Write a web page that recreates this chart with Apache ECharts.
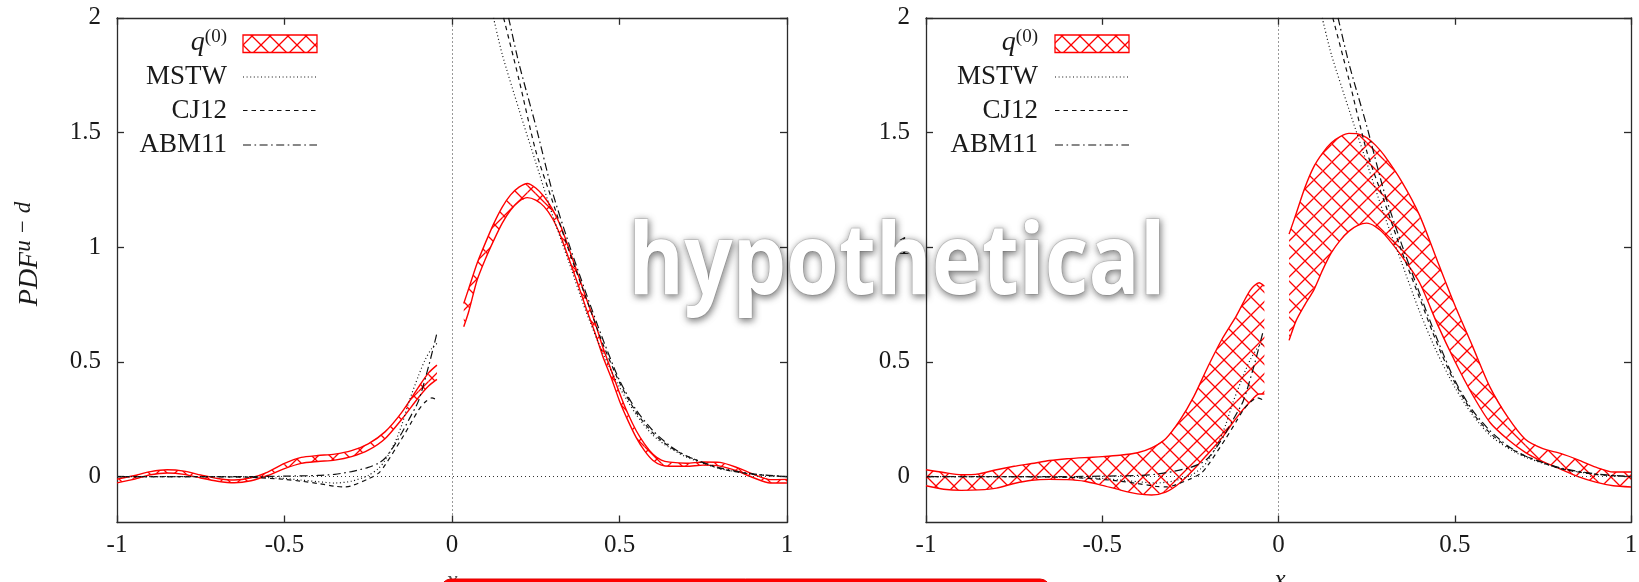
<!DOCTYPE html>
<html><head><meta charset="utf-8">
<script src="https://cdn.jsdelivr.net/npm/echarts@6/dist/echarts.min.js"></script>
<style>html,body{margin:0;padding:0;background:#fff}#c{width:1639px;height:582px}</style>
</head><body><div id="c"></div><script>
// ---------- tick labels ----------
const X_TICKS = [-1, -0.5, 0, 0.5, 1];
const Y_TICKS = [0, 0.5, 1, 1.5, 2];

// ---------- left panel: q(0) band ----------
const A_NEG_X  = [-1, -0.95, -0.9, -0.85, -0.8, -0.75, -0.7, -0.65, -0.6, -0.55, -0.5, -0.45, -0.4, -0.35, -0.3, -0.25, -0.2, -0.15, -0.1, -0.07, -0.045];
const A_NEG_LO = [-0.027, -0.012, 0.008, 0.016, 0.01, -0.006, -0.02, -0.027, -0.018, 0.005, 0.035, 0.058, 0.066, 0.072, 0.087, 0.115, 0.165, 0.25, 0.345, 0.395, 0.424];
const A_NEG_HI = [-0.011, 0.004, 0.022, 0.03, 0.024, 0.007, -0.008, -0.015, -0.005, 0.02, 0.058, 0.084, 0.092, 0.098, 0.113, 0.143, 0.195, 0.28, 0.39, 0.452, 0.486];
const A_POS_X  = [0.035, 0.05, 0.075, 0.1, 0.125, 0.15, 0.175, 0.2, 0.225, 0.25, 0.275, 0.3, 0.325, 0.35, 0.375, 0.4, 0.425, 0.45, 0.475, 0.5, 0.525, 0.55, 0.575, 0.6, 0.625, 0.65, 0.7, 0.75, 0.8, 0.85, 0.9, 0.95, 1.0];
const A_POS_LO = [0.653, 0.72, 0.857, 0.95, 1.031, 1.105, 1.162, 1.2, 1.216, 1.205, 1.177, 1.125, 1.046, 0.945, 0.843, 0.735, 0.635, 0.525, 0.432, 0.33, 0.245, 0.17, 0.112, 0.07, 0.05, 0.045, 0.045, 0.05, 0.046, 0.025, -0.005, -0.028, -0.028];
const A_POS_HI = [0.755, 0.82, 0.93, 1.02, 1.104, 1.175, 1.228, 1.262, 1.278, 1.258, 1.22, 1.165, 1.09, 0.99, 0.886, 0.78, 0.68, 0.565, 0.465, 0.365, 0.275, 0.2, 0.142, 0.098, 0.072, 0.063, 0.058, 0.064, 0.062, 0.04, 0.01, -0.013, -0.012];

// ---------- right panel: q(0) band ----------
const B_NEG_X  = [-1, -0.95, -0.9, -0.85, -0.8, -0.75, -0.7, -0.65, -0.6, -0.55, -0.5, -0.45, -0.4, -0.36, -0.32, -0.28, -0.24, -0.2, -0.16, -0.12, -0.08, -0.055, -0.04];
const B_NEG_LO = [-0.04, -0.055, -0.06, -0.058, -0.05, -0.03, -0.016, -0.012, -0.013, -0.02, -0.038, -0.058, -0.075, -0.08, -0.068, -0.028, 0.032, 0.1, 0.17, 0.255, 0.327, 0.36, 0.36];
const B_NEG_HI = [0.03, 0.018, 0.008, 0.012, 0.03, 0.045, 0.057, 0.07, 0.078, 0.083, 0.087, 0.093, 0.104, 0.125, 0.165, 0.245, 0.35, 0.48, 0.6, 0.7, 0.813, 0.845, 0.83];
const B_POS_X  = [0.03, 0.05, 0.075, 0.1, 0.125, 0.15, 0.175, 0.2, 0.225, 0.25, 0.275, 0.3, 0.35, 0.4, 0.45, 0.5, 0.55, 0.6, 0.65, 0.7, 0.75, 0.8, 0.85, 0.9, 0.95, 1.0];
const B_POS_LO = [0.594, 0.68, 0.75, 0.813, 0.9, 0.976, 1.03, 1.07, 1.095, 1.105, 1.09, 1.057, 0.96, 0.846, 0.667, 0.504, 0.358, 0.236, 0.163, 0.106, 0.065, 0.033, 0.0, -0.024, -0.04, -0.045];
const B_POS_HI = [1.057, 1.146, 1.26, 1.35, 1.41, 1.455, 1.482, 1.496, 1.494, 1.478, 1.445, 1.4, 1.285, 1.14, 0.943, 0.748, 0.57, 0.39, 0.26, 0.163, 0.122, 0.101, 0.073, 0.041, 0.02, 0.02];

// ---------- reference PDFs (same in both panels) ----------
const MSTW_NEG_X = [-1, -0.8, -0.6, -0.5, -0.45, -0.4, -0.35, -0.3, -0.25, -0.22, -0.2, -0.17, -0.15, -0.13, -0.1, -0.08, -0.06, -0.045];
const MSTW_NEG_Y = [0, 0, -0.002, -0.008, -0.015, -0.022, -0.028, -0.02, 0.005, 0.035, 0.07, 0.15, 0.225, 0.32, 0.44, 0.51, 0.56, 0.58];
const MSTW_POS_X = [0.124, 0.15, 0.2, 0.25, 0.3, 0.35, 0.4, 0.45, 0.5, 0.55, 0.6, 0.65, 0.7, 0.8, 0.9, 1.0];
const MSTW_POS_Y = [2.0, 1.84, 1.6, 1.37, 1.14, 0.93, 0.72, 0.54, 0.39, 0.27, 0.18, 0.125, 0.085, 0.035, 0.01, 0];
const CJ12_NEG_X = [-1, -0.8, -0.6, -0.5, -0.45, -0.4, -0.35, -0.32, -0.3, -0.25, -0.22, -0.2, -0.15, -0.12, -0.1, -0.08, -0.06, -0.045];
const CJ12_NEG_Y = [0, 0, -0.003, -0.012, -0.02, -0.03, -0.042, -0.045, -0.04, -0.01, 0.014, 0.05, 0.165, 0.24, 0.29, 0.325, 0.343, 0.335];
const CJ12_POS_X = [0.154, 0.2, 0.25, 0.3, 0.35, 0.4, 0.45, 0.5, 0.55, 0.6, 0.65, 0.7, 0.8, 0.9, 1.0];
const CJ12_POS_Y = [2.0, 1.73, 1.42, 1.2, 0.98, 0.78, 0.58, 0.41, 0.28, 0.19, 0.13, 0.09, 0.035, 0.01, 0];
const ABM11_NEG_X = [-1, -0.8, -0.6, -0.5, -0.4, -0.35, -0.3, -0.25, -0.22, -0.2, -0.175, -0.15, -0.13, -0.1, -0.07, -0.045];
const ABM11_NEG_Y = [0, 0, 0, 0.002, 0.005, 0.01, 0.022, 0.04, 0.058, 0.08, 0.13, 0.19, 0.245, 0.33, 0.48, 0.625];
const ABM11_POS_X = [0.169, 0.2, 0.25, 0.3, 0.35, 0.4, 0.45, 0.5, 0.55, 0.6, 0.65, 0.7, 0.8, 0.9, 1.0];
const ABM11_POS_Y = [2.0, 1.8, 1.53, 1.24, 1.01, 0.8, 0.6, 0.42, 0.29, 0.2, 0.135, 0.09, 0.038, 0.012, 0];

const LEGEND_NAMES = ['MSTW', 'CJ12', 'ABM11'];

// ---------- font choice (serif, Computer-Modern-like) ----------
function fontAvailable(name) {
  const g = document.createElement('canvas').getContext('2d');
  const s = 'MSTW abmq 0.5 ABM11 CJ12';
  let diff = false;
  for (const base of ['monospace', 'sans-serif']) {
    g.font = '40px ' + base; const w0 = g.measureText(s).width;
    g.font = '40px "' + name + '", ' + base; const w1 = g.measureText(s).width;
    if (Math.abs(w0 - w1) > 0.5) diff = true;
  }
  return diff;
}
const SERIF_CANDIDATES = ['Liberation Serif', 'Tinos', 'Times New Roman', 'DejaVu Serif'];
const FONT = SERIF_CANDIDATES.find(fontAvailable) || 'serif';
const WIDE = FONT === 'DejaVu Serif';
const TICK_SIZE = WIDE ? 21 : 25;
const LEG_SIZE = WIDE ? 25 : 27;

const RED = '#ff0000';
const INK = '#1a1a1a';
const FRAME = '#2b2b2b';
const DASH = { MSTW: [1, 2.6], CJ12: [4.5, 4], ABM11: [8, 3.5, 1.6, 3.5] };

function makeHatch() {
  const c = document.createElement('canvas');
  c.width = 18; c.height = 18;
  const g = c.getContext('2d');
  g.strokeStyle = RED; g.lineWidth = 1.3;
  g.beginPath();
  for (const o of [-18, 0, 18]) {
    g.moveTo(o, 0); g.lineTo(o + 18, 18);
    g.moveTo(o + 18, 0); g.lineTo(o, 18);
  }
  g.stroke();
  return c;
}
const HATCH = { image: makeHatch(), repeat: 'repeat' };

function pairs(xs, ys) { return xs.map((x, i) => [x, ys[i]]); }

function xAx(gi, pos, labels) {
  return { type: 'value', gridIndex: gi, position: pos, min: -1, max: 1, interval: 0.5,
    axisLine: { show: true, onZero: false, lineStyle: { color: FRAME, width: 1.3 } },
    axisTick: { show: true, inside: true, length: 7, lineStyle: { color: FRAME, width: 1.3 } },
    axisLabel: { show: labels, margin: 10, fontFamily: FONT, fontSize: TICK_SIZE, color: INK },
    splitLine: { show: false } };
}
function yAx(gi, pos, labels) {
  return { type: 'value', gridIndex: gi, position: pos, min: -0.2, max: 2, splitNumber: 5,
    axisLine: { show: true, onZero: false, lineStyle: { color: FRAME, width: 1.3 } },
    axisTick: { show: true, inside: true, length: 7, customValues: Y_TICKS, lineStyle: { color: FRAME, width: 1.3 } },
    axisLabel: { show: labels, margin: 16, customValues: Y_TICKS, fontFamily: FONT, fontSize: TICK_SIZE, color: INK,
      formatter: v => (v < -0.1 ? '' : String(v)) },
    splitLine: { show: false } };
}

function lineS(xi, yi, data, color, type, width) {
  return { type: 'line', xAxisIndex: xi, yAxisIndex: yi, data: data, showSymbol: false,
    symbol: 'none', smooth: 0.25, silent: true, clip: true,
    lineStyle: { color: color, type: type, width: width } };
}

function bandFill(xi, yi, X, LO, HI) {
  return { type: 'custom', xAxisIndex: xi, yAxisIndex: yi, silent: true, clip: true,
    data: X.map((x, i) => [x, LO[i], HI[i]]), encode: { x: 0, y: [1, 2] },
    renderItem: function (params, api) {
      const i = params.dataIndex;
      if (i >= X.length - 1) return;
      const pts = [api.coord([X[i], LO[i]]), api.coord([X[i + 1], LO[i + 1]]),
                   api.coord([X[i + 1], HI[i + 1]]), api.coord([X[i], HI[i]])];
      return { type: 'polygon', shape: { points: pts }, style: { fill: HATCH, stroke: null } };
    } };
}

const panels = [
  { xi: 0, yi: 0, bands: [[A_NEG_X, A_NEG_LO, A_NEG_HI], [A_POS_X, A_POS_LO, A_POS_HI]] },
  { xi: 2, yi: 2, bands: [[B_NEG_X, B_NEG_LO, B_NEG_HI], [B_POS_X, B_POS_LO, B_POS_HI]] }
];
const curves = [
  { name: 'MSTW', neg: pairs(MSTW_NEG_X, MSTW_NEG_Y), pos: pairs(MSTW_POS_X, MSTW_POS_Y) },
  { name: 'CJ12', neg: pairs(CJ12_NEG_X, CJ12_NEG_Y), pos: pairs(CJ12_POS_X, CJ12_POS_Y) },
  { name: 'ABM11', neg: pairs(ABM11_NEG_X, ABM11_NEG_Y), pos: pairs(ABM11_POS_X, ABM11_POS_Y) }
];

const series = [];
panels.forEach(p => {
  series.push({ type: 'line', xAxisIndex: p.xi, yAxisIndex: p.yi, data: [], silent: true,
    markLine: { silent: true, symbol: 'none', animation: false, label: { show: false },
      lineStyle: { type: [1, 3], color: '#333', width: 1 },
      data: [{ xAxis: 0 }, { yAxis: 0 }] } });
  p.bands.forEach(b => {
    series.push(bandFill(p.xi, p.yi, b[0], b[1], b[2]));
    series.push(lineS(p.xi, p.yi, pairs(b[0], b[1]), RED, 'solid', 1.4));
    series.push(lineS(p.xi, p.yi, pairs(b[0], b[2]), RED, 'solid', 1.4));
  });
  curves.forEach(c => {
    series.push(lineS(p.xi, p.yi, c.neg, '#111', DASH[c.name], 1.2));
    series.push(lineS(p.xi, p.yi, c.pos, '#111', DASH[c.name], 1.2));
  });
});

// ---------- legend (drawn as graphic) ----------
function legend(textRight, s0, s1) {
  const els = [];
  els.push({ type: 'text', z: 50, style: { x: textRight, y: 42, align: 'right', verticalAlign: 'middle',
    text: '{q|q}{s|(0)}', fill: INK,
    rich: { q: { fontFamily: FONT, fontStyle: 'italic', fontSize: LEG_SIZE + 1, lineHeight: 29, verticalAlign: 'bottom', fill: INK },
            s: { fontFamily: FONT, fontSize: 19, lineHeight: 18, verticalAlign: 'top', fill: INK } } } });
  els.push({ type: 'rect', z: 50, shape: { x: s0, y: 35, width: s1 - s0, height: 17.5 },
    style: { fill: HATCH, stroke: RED, lineWidth: 1.3 } });
  const rows = [77, 110.5, 145];
  LEGEND_NAMES.forEach((n, i) => {
    els.push({ type: 'text', z: 50, style: { x: textRight, y: rows[i], align: 'right', verticalAlign: 'middle',
      text: n, fontFamily: FONT, fontSize: LEG_SIZE, fill: INK } });
    els.push({ type: 'line', z: 50, shape: { x1: s0, y1: rows[i], x2: s1, y2: rows[i] },
      style: { stroke: '#111', lineWidth: 1.2, lineDash: DASH[n] } });
  });
  return els;
}

const graphics = [].concat(legend(227, 243, 317), legend(1038, 1055, 1129));
graphics.push({ type: 'text', z: 50, rotation: Math.PI / 2, x: 28, y: 254,
  style: { x: 0, y: 0, align: 'center', verticalAlign: 'middle', text: '{m|PDF}{s|u − d}', fill: INK,
    rich: { m: { fontFamily: FONT, fontStyle: 'italic', fontSize: LEG_SIZE + 1, lineHeight: 31, verticalAlign: 'bottom', fill: INK },
            s: { fontFamily: FONT, fontStyle: 'italic', fontSize: 23, lineHeight: 22, verticalAlign: 'top', fill: INK } } } });
graphics.push({ type: 'text', z: 50, style: { x: 452, y: 581, align: 'center', verticalAlign: 'middle', text: 'x',
  fontFamily: FONT, fontStyle: 'italic', fontSize: 25, fill: '#555' } });
graphics.push({ type: 'text', z: 50, style: { x: 1280, y: 580, align: 'center', verticalAlign: 'middle', text: 'x',
  fontFamily: FONT, fontStyle: 'italic', fontSize: 25, fill: INK } });
graphics.push({ type: 'rect', z: 60, shape: { x: 441, y: 579, width: 609, height: 30, r: 10 },
  style: { fill: RED, stroke: '#e00000', lineWidth: 1 } });
graphics.push({ type: 'text', z: 100, x: 897, y: 266, scaleY: 1.15,
  style: { x: 0, y: 0, align: 'center', verticalAlign: 'middle', text: 'hypothetical',
    fontFamily: 'Open Sans', fontWeight: 'bold', fontSize: 85,
    fill: '#ffffff', stroke: '#cfcfcf', lineWidth: 1.2,
    textShadowBlur: 7, textShadowColor: 'rgba(0,0,0,0.5)', textShadowOffsetX: 1, textShadowOffsetY: 2 } });

const chart = echarts.init(document.getElementById('c'), null, { renderer: 'canvas' });
chart.setOption({
  animation: false,
  backgroundColor: '#ffffff',
  grid: [
    { left: 117, width: 670, top: 17.8, height: 504.7, containLabel: false, outerBoundsMode: 'none' },
    { left: 926, width: 705, top: 17.8, height: 504.7, containLabel: false, outerBoundsMode: 'none' }
  ],
  xAxis: [xAx(0, 'bottom', true), xAx(0, 'top', false), xAx(1, 'bottom', true), xAx(1, 'top', false)],
  yAxis: [yAx(0, 'left', true), yAx(0, 'right', false), yAx(1, 'left', true), yAx(1, 'right', false)],
  series: series,
  graphic: graphics
});
</script></body></html>
